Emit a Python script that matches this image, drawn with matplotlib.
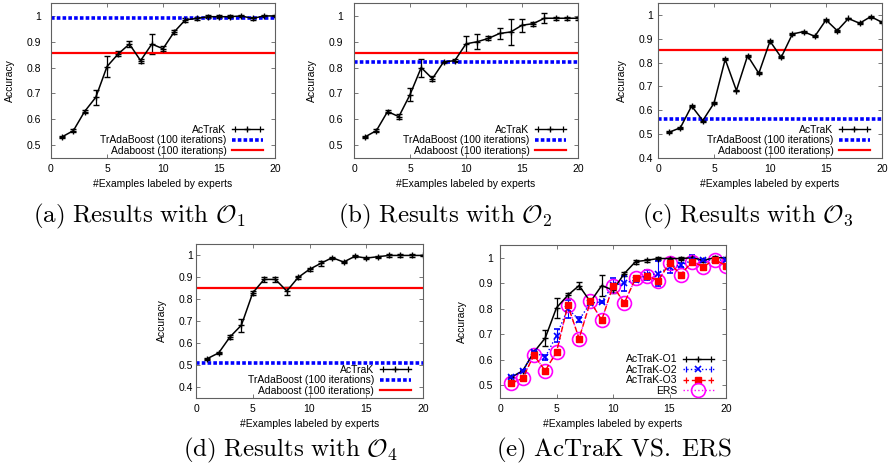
import matplotlib
matplotlib.use("Agg")
import matplotlib.pyplot as plt
from matplotlib.lines import Line2D
from matplotlib.legend_handler import HandlerLine2D

plt.rcParams['font.family'] = ['Liberation Sans', 'DejaVu Sans']
plt.rcParams['mathtext.fontset'] = 'cm'

steps = list(range(1, 21))

# AcTraK accuracy per oracle, with error bar half-heights
acc_o1 = [0.532, 0.556, 0.630, 0.685, 0.804, 0.853, 0.891, 0.827, 0.891, 0.873,
          0.938, 0.985, 0.990, 0.997, 0.997, 0.997, 1.000, 0.990, 1.000, 1.000]
err_o1 = [0.005, 0.005, 0.005, 0.030, 0.040, 0.010, 0.012, 0.008, 0.040, 0.010,
          0.008, 0.008, 0.005, 0.005, 0.005, 0.005, 0.005, 0.005, 0.005, 0.003]
acc_o2 = [0.532, 0.556, 0.630, 0.610, 0.695, 0.800, 0.757, 0.822, 0.827, 0.892,
          0.900, 0.913, 0.932, 0.938, 0.964, 0.970, 0.991, 0.991, 0.991, 0.991]
err_o2 = [0.005, 0.005, 0.005, 0.010, 0.025, 0.035, 0.010, 0.005, 0.005, 0.030,
          0.030, 0.008, 0.020, 0.050, 0.025, 0.008, 0.020, 0.005, 0.005, 0.005]
acc_o3 = [0.508, 0.527, 0.618, 0.557, 0.630, 0.814, 0.683, 0.829, 0.755, 0.890,
          0.822, 0.920, 0.930, 0.910, 0.979, 0.934, 0.985, 0.965, 0.993, 0.969]
err_o3 = [0.004] * 20
acc_o4 = [0.529, 0.555, 0.628, 0.681, 0.828, 0.889, 0.889, 0.836, 0.898, 0.935,
          0.962, 0.988, 0.968, 0.994, 0.986, 0.992, 0.998, 0.998, 0.998, 0.998]
err_o4 = [0.005, 0.005, 0.008, 0.030, 0.008, 0.010, 0.010, 0.020, 0.008, 0.008,
          0.010, 0.005, 0.005, 0.005, 0.005, 0.005, 0.005, 0.005, 0.005, 0.003]
acc_ers = [0.508, 0.527, 0.618, 0.557, 0.630, 0.814, 0.683, 0.829, 0.755, 0.890,
           0.822, 0.920, 0.930, 0.910, 0.979, 0.934, 0.985, 0.965, 0.993, 0.969]

# baselines (100 iterations)
tradaboost = [0.992, 0.822, 0.564, 0.509]
adaboost = [0.855, 0.855, 0.853, 0.851]

captions = [r'$\mathrm{(a)\ Results\ with\ }\mathcal{O}_1$',
            r'$\mathrm{(b)\ Results\ with\ }\mathcal{O}_2$',
            r'$\mathrm{(c)\ Results\ with\ }\mathcal{O}_3$',
            r'$\mathrm{(d)\ Results\ with\ }\mathcal{O}_4$',
            r'$\mathrm{(e)\ AcTraK\ VS.\ ERS}$']

FS = 7.5
FRAME = '#606060'

fig = plt.figure(figsize=(8.93, 4.69), dpi=100)

boxes = [(51, 3, 224, 155), (354, 3, 224, 155), (658, 3, 224, 155),
         (196, 244, 227, 154), (500, 245, 226, 153)]
ylims = [(0.45, 1.05), (0.45, 1.05), (0.4, 1.05), (0.35, 1.05), (0.45, 1.05)]
yticks = [[0.5, 0.6, 0.7, 0.8, 0.9, 1], [0.5, 0.6, 0.7, 0.8, 0.9, 1],
          [0.4, 0.5, 0.6, 0.7, 0.8, 0.9, 1], [0.4, 0.5, 0.6, 0.7, 0.8, 0.9, 1],
          [0.5, 0.6, 0.7, 0.8, 0.9, 1]]
ypads = [7, 8, 3.5, 2, 5]
cap_pos = [(139, 216), (445, 216), (748, 216), (290, 450), (614, 450)]

W, H = 893, 469
axes = []
for (l, t, w, h) in boxes:
    axes.append(fig.add_axes([l / W, 1 - (t + h) / H, w / W, h / H]))

def style(ax, i):
    ax.set_xlim(0, 20)
    ax.set_ylim(*ylims[i])
    ax.set_xticks([0, 5, 10, 15, 20])
    ax.set_yticks(yticks[i])
    ax.set_yticklabels(['%g' % v for v in yticks[i]])
    ax.tick_params(direction='in', length=3, width=0.6, labelsize=FS,
                   top=True, right=True, color=FRAME)
    ax.tick_params(axis='x', pad=4.5)
    ax.tick_params(axis='y', pad=ypads[i])
    for s in ax.spines.values():
        s.set_color(FRAME)
        s.set_linewidth(0.8)
    ax.set_xlabel('#Examples labeled by experts', fontsize=FS, labelpad=3.5)
    ax.set_ylabel('Accuracy', fontsize=FS, labelpad=8.5)

def err_key(color, ls, marker, ms, mew=1.0, mfc=None):
    # gnuplot-like key sample: line with point in the middle and end caps
    line = Line2D([], [], color=color, lw=1.0, ls=ls, marker=marker, ms=ms,
                  mew=mew, mfc=mfc if mfc else color)
    caps = Line2D([], [], color=color, ls='none', marker='|', ms=4, mew=0.9)
    return (line, caps), caps

def add_legend(ax, handles, labels, caps_list):
    hmap = {c: HandlerLine2D(numpoints=2) for c in caps_list}
    ax.legend(handles, labels, loc='lower right', frameon=False, fontsize=FS,
              markerfirst=False, handlelength=3.0, handletextpad=0.5,
              labelspacing=0.05, borderpad=0.2, borderaxespad=0.0,
              bbox_to_anchor=(1 - 10 / 224, 0.0), handler_map=hmap)

series = [(acc_o1, err_o1), (acc_o2, err_o2), (acc_o3, err_o3), (acc_o4, err_o4)]
for i, (acc, err) in enumerate(series):
    ax = axes[i]
    ax.errorbar(steps, acc, yerr=err, color='black', lw=1.1, marker='+',
                ms=5, mew=1.0, capsize=2, elinewidth=0.9)
    h2 = ax.axhline(tradaboost[i], color='#0000ff', lw=2.6, ls=(0, (1, 0.6)))
    h3 = ax.axhline(adaboost[i], color='#ff0000', lw=1.6)
    style(ax, i)
    h1, c1 = err_key('black', '-', '+', 5)
    add_legend(ax, [h1, h2, h3],
               ['AcTraK', 'TrAdaBoost (100 iterations)', 'Adaboost (100 iterations)'],
               [c1])

ax = axes[4]
ax.errorbar(steps, acc_o1, yerr=err_o1, color='black', lw=1.1, marker='+',
            ms=5, mew=1.0, capsize=2, elinewidth=0.9)
ax.errorbar(steps, acc_o2, yerr=err_o2, color='#0000ff', lw=1.0, ls=':',
            marker='x', ms=4.5, mew=1.2, capsize=2, elinewidth=0.8)
ax.errorbar(steps, acc_o3, yerr=err_o3, color='#ff0000', lw=1.0,
            ls=(0, (4, 2)), marker='s', ms=4.5, capsize=2, elinewidth=0.8)
e4, = ax.plot(steps, acc_ers, color='#ff00ff', lw=1.0, ls=':', marker='o',
              ms=10, mfc='none', mew=1.2)
style(ax, 4)
k1, c1 = err_key('black', '-', '+', 5)
k2, c2 = err_key('#0000ff', ':', 'x', 4.5, mew=1.2)
k3, c3 = err_key('#ff0000', (0, (4, 2)), 's', 4.5)
add_legend(ax, [k1, k2, k3, e4], ['AcTraK-O1', 'AcTraK-O2', 'AcTraK-O3', 'ERS'],
           [c1, c2, c3])

for (x, y), c in zip(cap_pos, captions):
    fig.text(x / W, 1 - y / H, c, ha='center', va='center', fontsize=18)

fig.savefig('out.png', dpi=100)
